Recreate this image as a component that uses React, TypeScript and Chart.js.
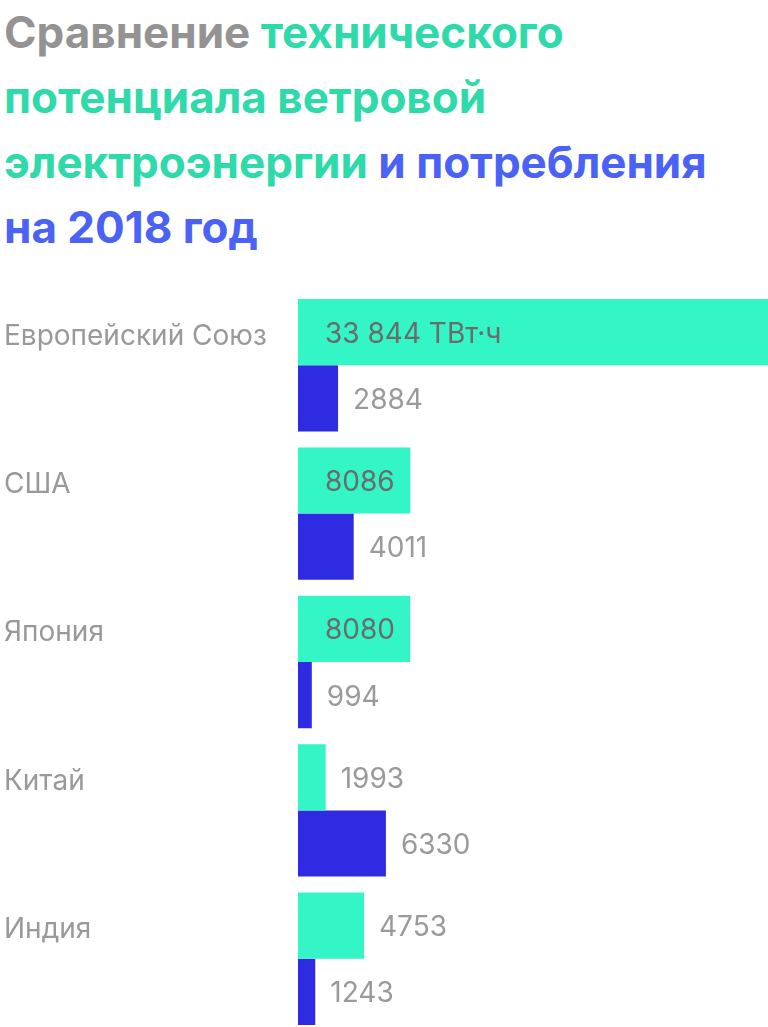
import { useEffect, useRef } from "react"
import { Chart, registerables, type ChartConfiguration, type Plugin } from "chart.js"

Chart.register(...registerables)

const categories = ["Европейский Союз", "США", "Япония", "Китай", "Индия"]
const potential = [33844, 8086, 8080, 1993, 4753]
const consumption = [2884, 4011, 994, 6330, 1243]

const GREEN = "#33f5c6"
const BLUE = "#2f2be2"
const FONT = "Inter"

const fmt = (v: number) => v.toLocaleString("ru-RU").replace(/\s/g, " ")

// value next to each bar, or inside the green bar when it fits
const valueLabels: Plugin<"bar"> = {
  id: "valueLabels",
  afterDatasetsDraw(chart) {
    const { ctx } = chart
    ctx.save()
    ctx.font = `28px ${FONT}`
    ctx.textBaseline = "middle"
    ctx.textAlign = "left"
    chart.data.datasets.forEach((ds, di) => {
      const meta = chart.getDatasetMeta(di)
      meta.data.forEach((bar: any, i) => {
        const v = ds.data[i] as number
        const text = di === 0 && i === 0 ? fmt(v) + " ТВт·ч" : String(v)
        const w = ctx.measureText(text).width
        const barW = bar.x - bar.base
        if (di === 0 && barW > w + 30) {
          ctx.fillStyle = "#6b6b6b"
          ctx.fillText(text, bar.base + 27, bar.y + 2)
        } else {
          ctx.fillStyle = "#9a9a9a"
          ctx.fillText(text, bar.x + 15, bar.y + 2)
        }
      })
    })
    ctx.restore()
  },
}

export default function App() {
  const chartRef = useRef<HTMLCanvasElement>(null)
  const chartInstance = useRef<Chart | null>(null)

  useEffect(() => {
    document.body.style.margin = "0"
    if (!chartRef.current) return
    const ctx = chartRef.current.getContext("2d")
    if (!ctx) return

    if (chartInstance.current) {
      chartInstance.current.destroy()
    }

    const config: ChartConfiguration<"bar"> = {
      type: "bar",
      data: {
        labels: categories,
        datasets: [
          {
            data: potential,
            backgroundColor: GREEN,
            borderWidth: 0,
            barPercentage: 1,
            categoryPercentage: 132 / 148,
          },
          {
            data: consumption,
            backgroundColor: BLUE,
            borderWidth: 0,
            barPercentage: 1,
            categoryPercentage: 132 / 148,
          },
        ],
      },
      options: {
        indexAxis: "y",
        animation: false,
        responsive: false,
        maintainAspectRatio: false,
        layout: { padding: { left: 4 } },
        scales: {
          x: {
            display: false,
            min: 0,
            max: 33844,
          },
          y: {
            grid: { display: false, drawTicks: false },
            border: { display: false },
            afterFit: (axis: any) => {
              axis.width = 294
              axis.paddingTop = 0
              axis.paddingBottom = 0
            },
            ticks: {
              crossAlign: "far",
              padding: 0,
              labelOffset: -29,
              color: "#999999",
              font: { family: FONT, size: 28 },
            },
          },
        },
        plugins: {
          legend: { display: false },
          tooltip: { enabled: false },
        },
      },
      plugins: [valueLabels],
    }

    chartInstance.current = new Chart(ctx, config)

    return () => {
      if (chartInstance.current) {
        chartInstance.current.destroy()
      }
    }
  }, [])

  const gray = "#939393"
  const green = "#2ed9aa"
  const blue = "#4b62f6"

  return (
    <div
      style={{
        position: "relative",
        width: 768,
        height: 1027,
        overflow: "hidden",
        background: "#fff",
      }}
    >
      <div
        style={{
          position: "absolute",
          left: 4,
          top: 0,
          width: 760,
          fontFamily: FONT,
          fontWeight: 700,
          fontSize: 44,
          lineHeight: "65px",
          letterSpacing: 0,
        }}
      >
        <span style={{ color: gray }}>Сравнение </span>
        <span style={{ color: green }}>
          технического
          <br />
          потенциала ветровой
          <br />
          электроэнергии{" "}
        </span>
        <span style={{ color: blue }}>
          и потребления
          <br />
          на 2018 год
        </span>
      </div>
      <canvas
        ref={chartRef}
        width={768}
        height={742}
        style={{ position: "absolute", left: 0, top: 291, width: 768, height: 742 }}
      />
    </div>
  )
}
